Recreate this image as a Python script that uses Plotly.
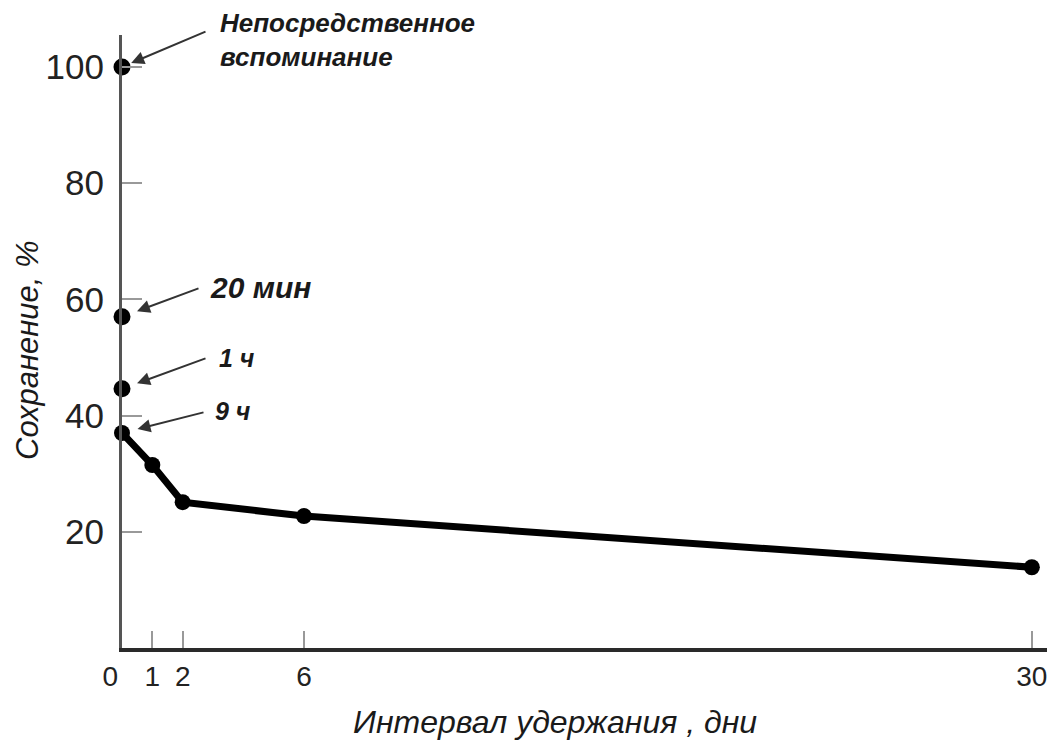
import plotly.graph_objects as go

# ---- data ----
early_labels = ["Непосредственное<br>вспоминание", "20 мин", "1 ч"]
early_days = [0, 0, 0]
early_retention = [100, 57.0, 44.6]

curve_days = [0, 1, 2, 6, 30]
curve_retention = [37.0, 31.5, 25.1, 22.7, 13.9]
curve_first_label = "9 ч"

x_tick_vals = [0, 1, 2, 6, 30]
x_tick_text = ["0\u00a0\u00a0\u00a0", "1", "2", "6", "30"]
y_tick_vals = [20, 40, 60, 80, 100]

x_title = "Интервал удержания , дни"
y_title = "Сохранение, %"

INK = "#1a1a1a"
FONT = "Liberation Sans"

fig = go.Figure()

fig.add_trace(go.Scatter(
    x=curve_days, y=curve_retention, mode="lines+markers",
    line=dict(color="black", width=7),
    marker=dict(color="black", size=16),
    cliponaxis=False, showlegend=False, hoverinfo="skip"))

fig.add_trace(go.Scatter(
    x=early_days, y=early_retention, mode="markers",
    marker=dict(color="black", size=17),
    cliponaxis=False, showlegend=False, hoverinfo="skip"))

# arrows pointing at the points on the axis
arrow_offsets = [(85, -36, 10), (78, -29, 16), (85, -31, 16)]
for (xv, yv, (ax, ay, so)) in zip(early_days, early_retention, arrow_offsets):
    fig.add_annotation(x=xv, y=yv, xref="x", yref="y", text="",
                       showarrow=True, ax=ax, ay=ay, standoff=so,
                       arrowhead=2, arrowsize=1.3, arrowwidth=2, arrowcolor="#333")
fig.add_annotation(x=curve_days[0], y=curve_retention[0], xref="x", yref="y", text="",
                   showarrow=True, ax=83, ay=-21, standoff=16,
                   arrowhead=2, arrowsize=1.3, arrowwidth=2, arrowcolor="#333")

# text labels
label_pos = [(3.17, 104.6, 26), (2.83, 62.1, 30), (3.13, 49.9, 25)]
for lab, (lx, ly, fs) in zip(early_labels, label_pos):
    fig.add_annotation(x=lx, y=ly, xref="x", yref="y", text=lab, showarrow=False,
                       xanchor="left", yanchor="middle", align="left",
                       font=dict(family=FONT, size=fs, color=INK, style="italic", weight="bold"))
fig.add_annotation(x=3.0, y=40.8, xref="x", yref="y", text=curve_first_label, showarrow=False,
                   xanchor="left", yanchor="middle",
                   font=dict(family=FONT, size=25, color=INK, style="italic", weight="bold"))

# axis titles (positions given in page pixels)
fig.add_annotation(x=555, y=722, xref="paper", yref="paper", text=x_title, showarrow=False,
                   xanchor="center", yanchor="middle",
                   font=dict(family=FONT, size=32, color=INK, style="italic"))
fig.add_annotation(x=27, y=350, xref="paper", yref="paper", text=y_title, showarrow=False,
                   textangle=-90, xanchor="center", yanchor="middle",
                   font=dict(family=FONT, size=31, color=INK, style="italic"))

W, H = 1061, 750
OFF = 8  # page body offset
L, R, T, B = 122 - OFF, 14 + OFF, 35 - OFF, 102 + OFF
PL, PR, PT, PB = 122, 1047, 35, 648  # plot area in page pixels
for a in fig.layout.annotations[-2:]:
    a.x = (a.x - PL) / (PR - PL)
    a.y = (PB - a.y) / (PB - PT)

fig.update_layout(
    width=W, height=H,
    margin=dict(l=L, r=R, t=T, b=B),
    paper_bgcolor="white", plot_bgcolor="white",
    font=dict(family=FONT, color=INK),
    xaxis=dict(range=[0, 30.5], tickvals=x_tick_vals, ticktext=x_tick_text, tickangle=0,
               automargin=False,
               showgrid=False, zeroline=False, showline=True, linecolor="#2a2a2a", linewidth=4,
               ticks="inside", ticklen=17, tickwidth=1.5, tickcolor="#999",
               tickfont=dict(family=FONT, size=28, color="#222"), ticklabelstandoff=0),
    yaxis=dict(range=[0, 105.5], tickvals=y_tick_vals, automargin=False,
               showgrid=False, zeroline=False, showline=True, linecolor="#555", linewidth=3,
               ticks="inside", ticklen=20, tickwidth=1.5, tickcolor="#999",
               tickfont=dict(family=FONT, size=35, color="#222"), ticklabelstandoff=8),
)

fig.write_html("out.html")
